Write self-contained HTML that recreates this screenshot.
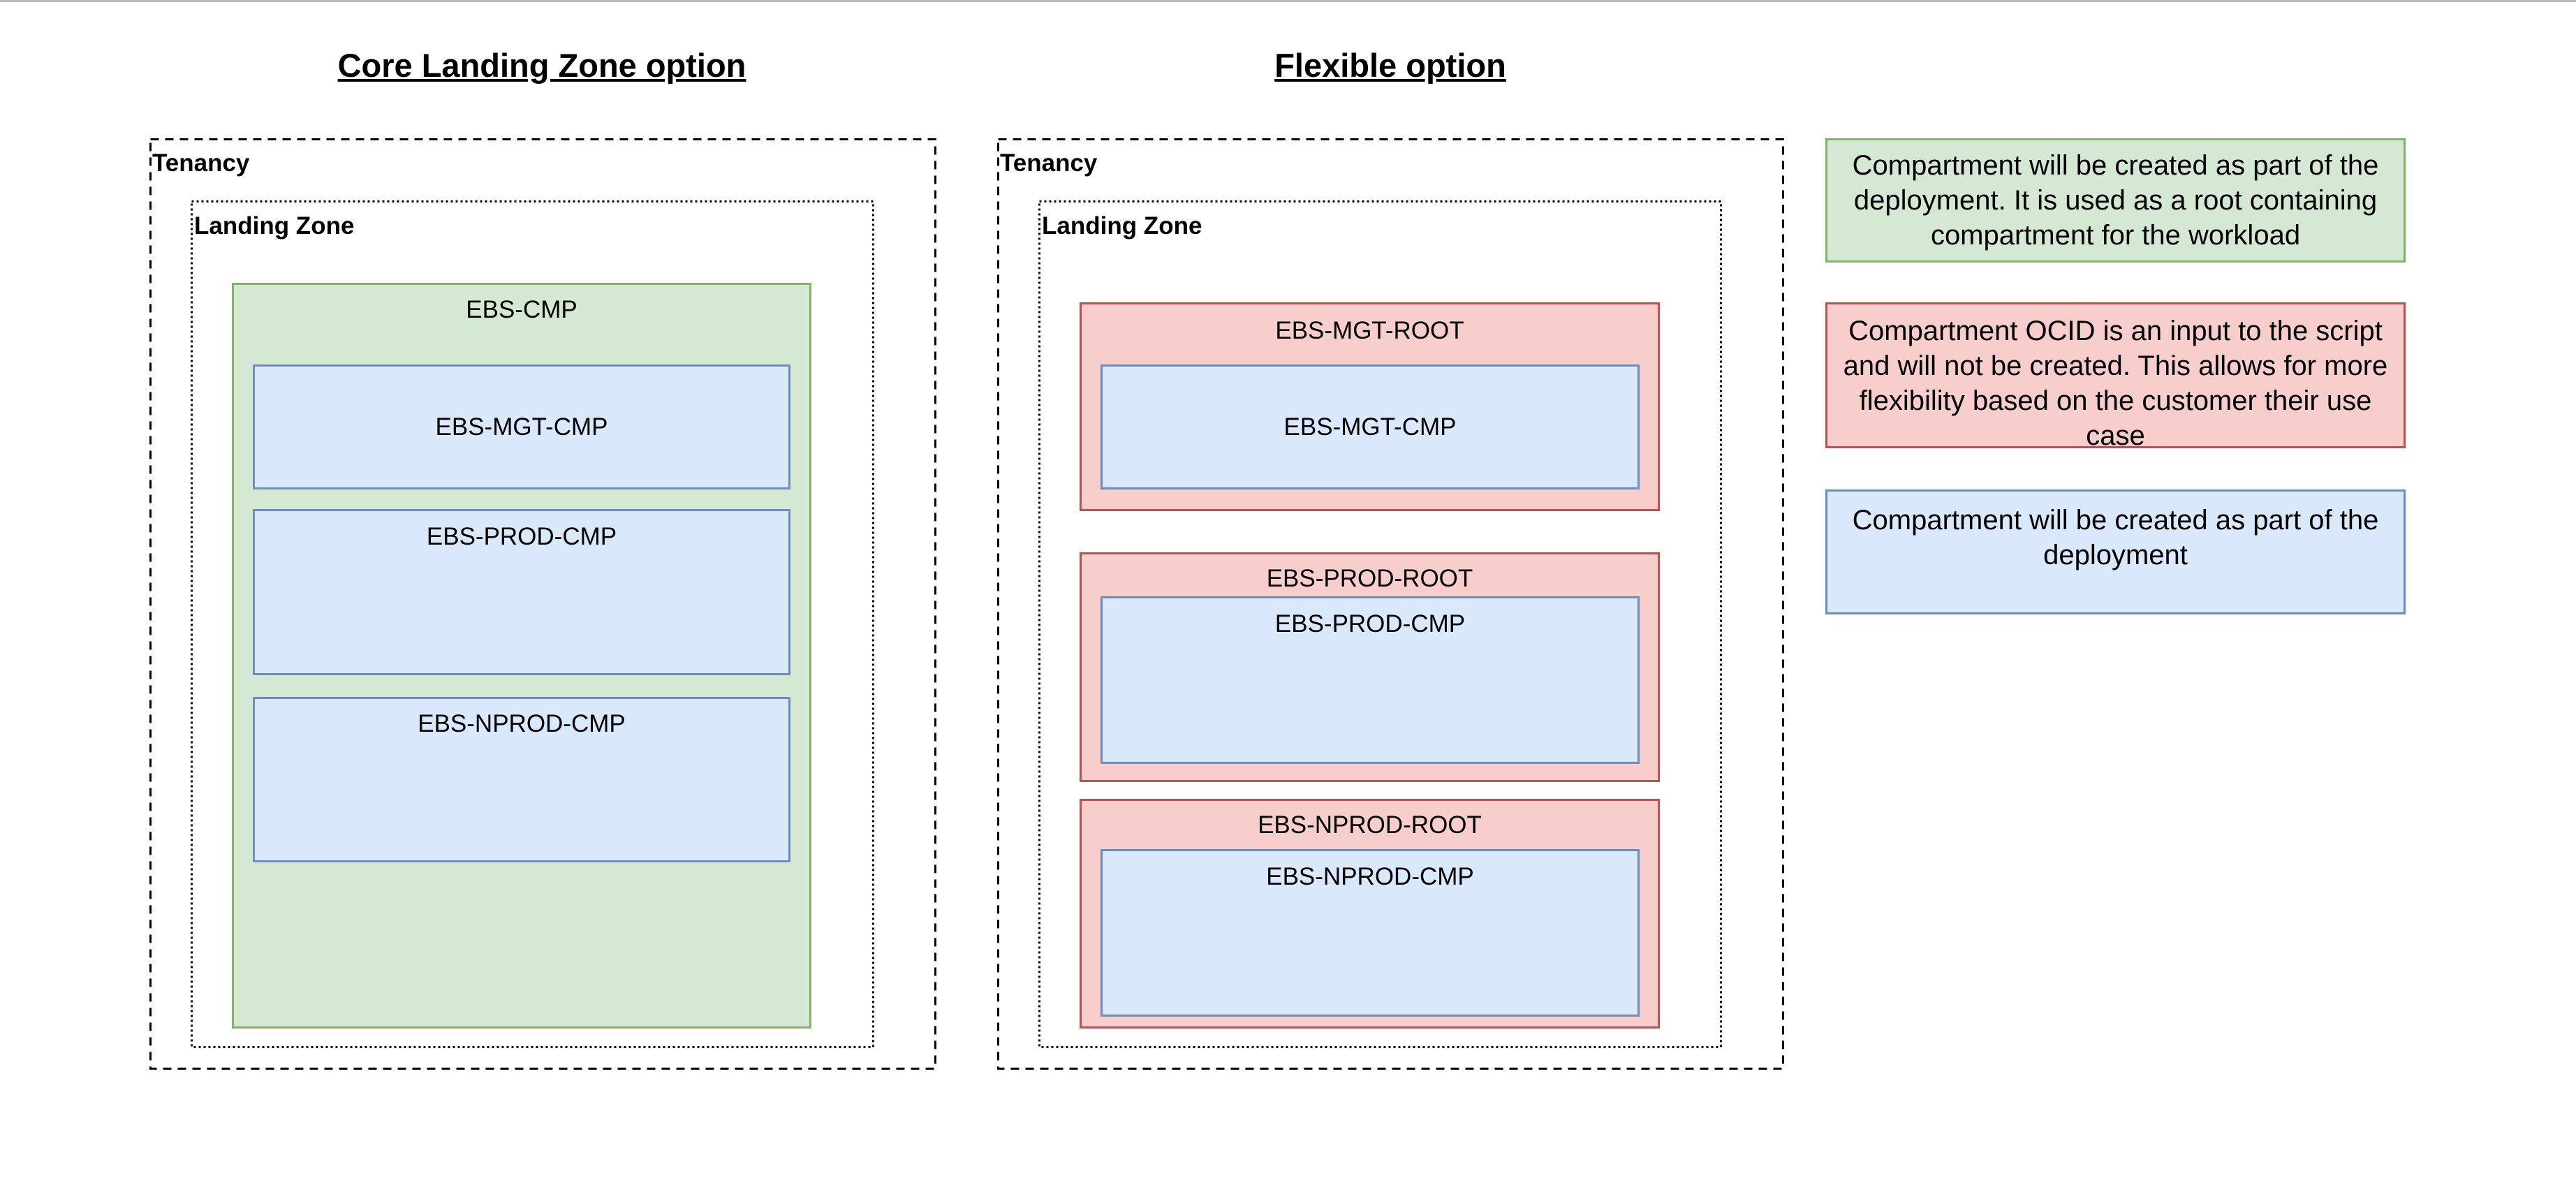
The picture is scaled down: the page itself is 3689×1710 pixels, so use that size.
<!DOCTYPE html>
<html><head><meta charset="utf-8"><style>
html,body{margin:0;padding:0;width:3689px;height:1710px;background:#fff;overflow:hidden;position:relative;font-family:"Liberation Sans",Arial,sans-serif;color:#000}
.b{position:absolute;box-sizing:border-box}
.t{position:absolute;font-weight:bold;font-size:47px;text-decoration:underline;text-align:center;width:800px}
.g{background:#d5e8d4;border:3px solid #82b366}
.bl{background:#dae8fc;border:3px solid #6c8ebf}
.r{background:#f8cecc;border:3px solid #b85450}
.lbl{position:absolute;font-weight:bold;font-size:35px}
.c{position:absolute;left:0;right:0;text-align:center;font-size:35px}
.mid{display:flex;align-items:center;justify-content:center;font-size:35px}
.lg{display:flex;align-items:center;justify-content:center;text-align:center;font-size:40px;line-height:50px;padding:0 10px}
</style></head><body>
<div class="b" style="left:0;top:0;width:3689px;height:3px;background:#bbb"></div>
<div class="t" style="left:376px;top:66px">Core Landing Zone option</div>
<div class="t" style="left:1591px;top:66px">Flexible option</div>

<svg class="b" style="left:0;top:0" width="3689" height="1710">
<g fill="none" stroke="#000" stroke-width="3">
<rect x="215.5" y="199.5" width="1124" height="1331" stroke-dasharray="12 9"/>
<rect x="1429.5" y="199.5" width="1124" height="1331" stroke-dasharray="12 9"/>
<rect x="274.5" y="288.5" width="976" height="1211" stroke-dasharray="3 4"/>
<rect x="1488.5" y="288.5" width="976" height="1211" stroke-dasharray="3 4"/>
</g></svg>
<div class="lbl" style="left:218px;top:214px">Tenancy</div>
<div class="lbl" style="left:278px;top:304px">Landing Zone</div>
<div class="b g" style="left:332px;top:405px;width:830px;height:1068px"><div class="c" style="top:16px">EBS-CMP</div></div>
<div class="b bl mid" style="left:362px;top:522px;width:770px;height:179px">EBS-MGT-CMP</div>
<div class="b bl" style="left:362px;top:729px;width:770px;height:238px"><div class="c" style="top:17px">EBS-PROD-CMP</div></div>
<div class="b bl" style="left:362px;top:998px;width:770px;height:237px"><div class="c" style="top:16px">EBS-NPROD-CMP</div></div>

<div class="lbl" style="left:1432px;top:214px">Tenancy</div>
<div class="lbl" style="left:1492px;top:304px">Landing Zone</div>
<div class="b r" style="left:1546px;top:433px;width:831px;height:299px"><div class="c" style="top:18px">EBS-MGT-ROOT</div></div>
<div class="b bl mid" style="left:1576px;top:522px;width:772px;height:179px">EBS-MGT-CMP</div>
<div class="b r" style="left:1546px;top:791px;width:831px;height:329px"><div class="c" style="top:15px">EBS-PROD-ROOT</div></div>
<div class="b bl" style="left:1576px;top:854px;width:772px;height:240px"><div class="c" style="top:17px">EBS-PROD-CMP</div></div>
<div class="b r" style="left:1546px;top:1144px;width:831px;height:329px"><div class="c" style="top:15px">EBS-NPROD-ROOT</div></div>
<div class="b bl" style="left:1576px;top:1216px;width:772px;height:240px"><div class="c" style="top:17px">EBS-NPROD-CMP</div></div>

<div class="b g lg" style="left:2614px;top:198px;width:831px;height:178px">Compartment will be created as part of the deployment. It is used as a root containing compartment for the workload</div>
<div class="b r lg" style="left:2614px;top:433px;width:831px;height:209px;padding-top:22px">Compartment OCID is an input to the script and will not be created. This allows for more flexibility based on the customer their use case</div>
<div class="b bl lg" style="left:2614px;top:701px;width:831px;height:179px;align-items:flex-start;padding-top:16px">Compartment will be created as part of the deployment</div>
</body></html>
